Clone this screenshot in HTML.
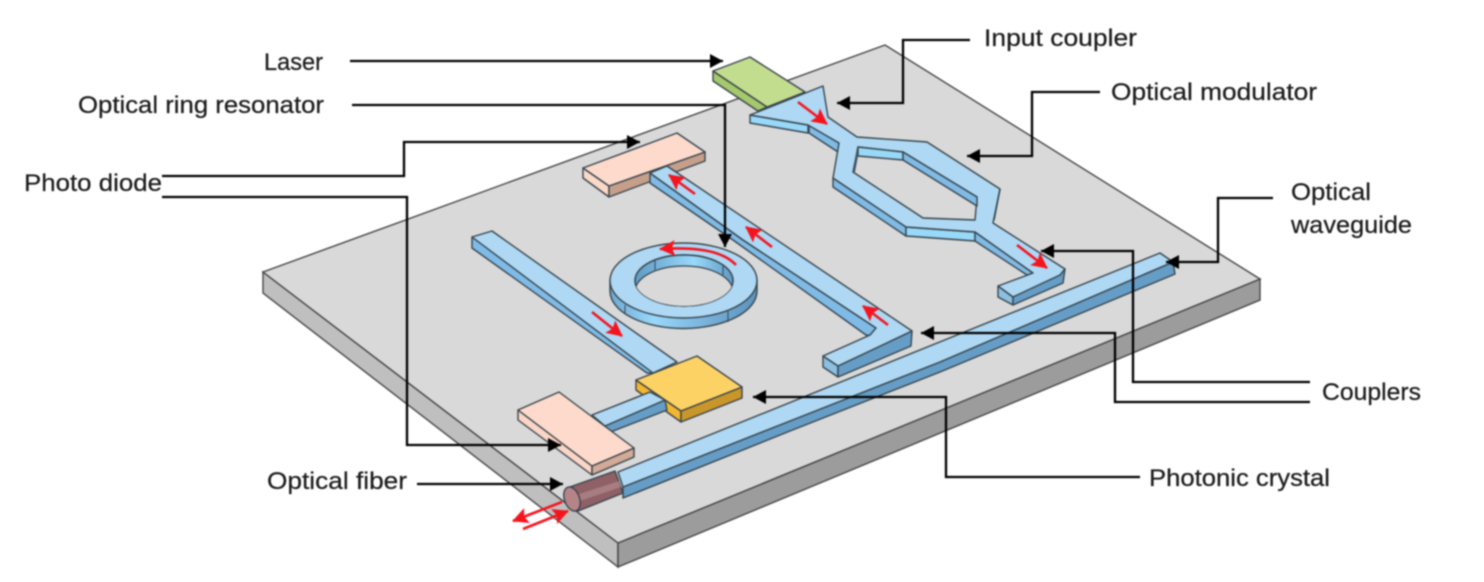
<!DOCTYPE html>
<html>
<head>
<meta charset="utf-8">
<style>
html,body{margin:0;padding:0;background:#fff;width:1484px;height:582px;overflow:hidden}
svg{display:block;filter:blur(0.8px)}
text{font-family:"Liberation Sans",sans-serif;font-size:24.5px;fill:#1c1c1c;stroke:#1c1c1c;stroke-width:.25}
.s{stroke:#37444c;stroke-width:1.4;stroke-linejoin:round}
.t{fill:#aed8f3}.l{fill:#98d8f8}.m{fill:#7fbbe6}.d{fill:#659dc6}
.c{fill:none;stroke:#000;stroke-width:2.3;marker-end:url(#k)}
.r{fill:none;stroke:#f5141e;stroke-width:2.6;marker-end:url(#h)}
</style>
</head>
<body>
<svg width="1484" height="582" viewBox="0 0 1484 582" xmlns="http://www.w3.org/2000/svg">
<defs>
<marker id="k" markerUnits="userSpaceOnUse" markerWidth="15" markerHeight="15" refX="13" refY="7.5" orient="auto"><path d="M0,.5L13,7.5L0,14.5Z" fill="#000"/></marker>
<marker id="h" markerUnits="userSpaceOnUse" markerWidth="17" markerHeight="16" refX="15" refY="8" orient="auto"><path d="M0,0L16,8L0,16L3,8Z" fill="#f5141e"/></marker>
<linearGradient id="g" x1="0" x2="1" y1="0" y2="0"><stop offset="0" stop-color="#6ea8d2"/><stop offset=".3" stop-color="#99d8fa"/><stop offset=".7" stop-color="#74acd6"/><stop offset="1" stop-color="#5c94bd"/></linearGradient>
<linearGradient id="g2" x1="0" x2="1" y1="0" y2="0"><stop offset="0" stop-color="#5f9ac4"/><stop offset=".6" stop-color="#99d8fa"/><stop offset="1" stop-color="#5f9ac4"/></linearGradient>
<clipPath id="hc"><ellipse cx="684" cy="280.5" rx="49" ry="25.5"/></clipPath>
</defs>

<!-- plate -->
<polygon points="263,272 618,543 618,567 263,293" fill="#bfbfbf" stroke="#444" stroke-width="1.4"/>
<polygon points="618,543 1260,279 1260,300 618,567" fill="#9c9c9c" stroke="#444" stroke-width="1.4"/>
<polygon points="263,272 885,45 1260,279 618,543" fill="#d9d9d9" stroke="#444" stroke-width="1.4"/>

<!-- laser -->
<polygon class="s" points="713,71 767,107 758,111 713,81" fill="#a5c96c"/>
<polygon class="s" points="713,71 750,57 805,92 767,107" fill="#c3dd8e"/>

<!-- modulator sides -->
<polygon class="s l" points="750,115 808,125 808,133 750,123"/>
<polygon class="s m" points="809,125 839,143 838,152 809,133"/>
<polygon class="s m" points="833,178 906,227 906,236 833,187"/>
<polygon class="s l" points="906,227 975,232 975,241 906,236"/>
<polygon class="s m" points="975,232 1033,273 1027,275 975,241"/>
<polygon class="s" points="998,286 1013,297 1013,305 998,297" fill="#8cc0e0"/>
<polygon class="s d" points="1013,297 1065,269 1063,283 1013,305"/>
<!-- modulator top -->
<path class="s t" fill-rule="evenodd" d="M750,115L823,86L828,117L857,137L927,142L1000,189L993,223L1065,269L1060,275L1013,297L998,286L1033,273L975,232L906,227L833,178L839,143L808,125Z M858,147L903,152L977,197L975,220L923,218L853,172Z"/>
<!-- hole walls -->
<polygon class="s l" points="858,147 903,152 903,160 858,156"/>
<polygon class="s m" points="903,152 977,197 977,206 903,160"/>
<polygon points="857,148 858,156 855,172 853,172" fill="#3c5566"/>
<line x1="1000" y1="189" x2="994" y2="220" stroke="#2f4250" stroke-width="1.5"/>

<!-- upper photodiode -->
<polygon class="s" points="583,168 609,186 609,197 583,178" fill="#fbd9c9"/>
<polygon class="s" points="609,186 705,152 705,161 609,197" fill="#c69f8b"/>
<polygon class="s" points="583,168 677,133 705,152 609,186" fill="#fddacb"/>

<!-- upper waveguide -->
<polygon class="s m" points="650,173 743,240 876,328 872,336 866,335 733,240 650,183"/>
<polygon class="s" points="823,356 838,366 838,377 823,367" fill="#8cc0e0"/>
<polygon class="s d" points="838,366 912,331 911,346 838,377"/>
<polygon class="s t" points="650,173 667,166 912,331 838,366 823,356 870,335 876,328 743,240"/>

<!-- left waveguide -->
<polygon class="s m" points="472,237 647,361 653,373 647,373 472,248"/>
<polygon class="s t" points="472,237 492,231 677,362 653,373"/>

<!-- ring -->
<path class="s" fill="url(#g)" d="M610,280A73.5,37.5 0 0 0 757,280L757,291A73.5,37.5 0 0 1 610,291Z"/>
<path class="s t" fill-rule="evenodd" d="M610,280.5a73.5,37.5 0 1 0 147,0a73.5,37.5 0 1 0 -147,0Z M635,280.5a49,25.5 0 1 0 98,0a49,25.5 0 1 0 -98,0Z"/>
<ellipse cx="684" cy="280.5" rx="49" ry="25.5" fill="url(#g2)" stroke="#37444c" stroke-width="1.4"/>
<ellipse cx="684" cy="291.5" rx="49" ry="25.5" fill="#d9d9d9" stroke="#37444c" stroke-width="1.2" clip-path="url(#hc)"/>
<line x1="625" y1="305" x2="625" y2="313" stroke="#37444c"/>
<line x1="728" y1="311" x2="728" y2="322" stroke="#37444c"/>
<line x1="655" y1="260" x2="655" y2="270" stroke="#37444c"/>
<line x1="723" y1="266" x2="723" y2="275" stroke="#37444c"/>

<!-- yellow + lower waveguide + pink -->
<polygon class="s" points="636,380 681,411 681,422 636,390" fill="#f4b52f"/>
<polygon class="s" points="681,411 742,387 742,398 681,422" fill="#c9962a"/>
<polygon class="s d" points="605,426 665,400 667,410 608,433"/>
<polygon class="s t" points="592,415 650,392 665,400 605,426"/>
<polygon class="s" points="636,380 697,356 742,387 681,411" fill="#fdd264"/>
<polygon class="s" points="518,410 592,466 592,475 518,420" fill="#fbd5c5"/>
<polygon class="s" points="592,466 634,448 634,457 592,475" fill="#d2aa96"/>
<polygon class="s" points="518,410 559,392 634,448 592,466" fill="#fddacb"/>

<!-- big waveguide -->
<polygon class="s d" points="623,487 790,421 940,362 1173,262 1175,274 940,372 790,431 623,498"/>
<polygon class="s t" points="618,472 1160,253 1173,262 940,362 790,421 623,487"/>

<!-- fiber -->
<polygon class="s" points="567,488 615,471 623,493 578,511" fill="#8f6066"/>
<polygon points="570,497 619,481 621,487 574,503" fill="#b08a8e" opacity=".7"/>
<ellipse class="s" cx="572" cy="499" rx="7.5" ry="12.5" transform="rotate(-20 572 499)" fill="#b58489"/>

<!-- red arrows -->
<path class="r" d="M798,102L827,124"/>
<path class="r" d="M1017,245L1047,268"/>
<path class="r" d="M695,194L669,175"/>
<path class="r" d="M772,247L746,227"/>
<path class="r" d="M888,325L863,306"/>
<path class="r" d="M592,312L622,336"/>
<path class="r" d="M736,265C722,250 695,247 660,249"/>
<path class="r" d="M562,502L513,521"/>
<path class="r" d="M523,529L568,511"/>

<!-- connectors -->
<path class="c" d="M350,61H723"/>
<path class="c" d="M352,105H725V247"/>
<path class="c" d="M162,176H404V142H640"/>
<path class="c" d="M162,197H407V445H561"/>
<path class="c" d="M417,484H563"/>
<path class="c" d="M970,40H903V103H837"/>
<path class="c" d="M1100,92H1032V156H967"/>
<path class="c" d="M1273,198H1218V262H1166"/>
<path class="c" d="M1310,382H1133V251H1041"/>
<path class="c" d="M1310,402H1115V333H921"/>
<path class="c" d="M1140,477H946V397H753"/>

<!-- labels -->
<text x="264" y="70" textLength="59" lengthAdjust="spacingAndGlyphs">Laser</text>
<text x="78" y="113" textLength="246" lengthAdjust="spacingAndGlyphs">Optical ring resonator</text>
<text x="24" y="191" textLength="138" lengthAdjust="spacingAndGlyphs">Photo diode</text>
<text x="267" y="489" textLength="140" lengthAdjust="spacingAndGlyphs">Optical fiber</text>
<text x="984" y="46" textLength="153" lengthAdjust="spacingAndGlyphs">Input coupler</text>
<text x="1111" y="100" textLength="206" lengthAdjust="spacingAndGlyphs">Optical modulator</text>
<text x="1291" y="200" textLength="80" lengthAdjust="spacingAndGlyphs">Optical</text>
<text x="1291" y="233" textLength="121" lengthAdjust="spacingAndGlyphs">waveguide</text>
<text x="1322" y="400" textLength="99" lengthAdjust="spacingAndGlyphs">Couplers</text>
<text x="1149" y="486" textLength="181" lengthAdjust="spacingAndGlyphs">Photonic crystal</text>
</svg>
</body>
</html>
